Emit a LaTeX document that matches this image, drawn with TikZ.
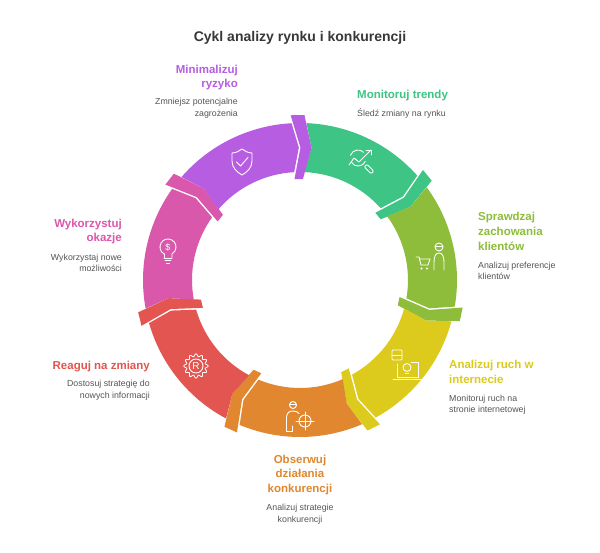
\documentclass[tikz,border=0pt]{standalone}
\usepackage{fontspec}
\setmainfont{Liberation Sans}
\definecolor{cgreen}{HTML}{3EC484}
\definecolor{clime}{HTML}{8DBD3B}
\definecolor{cyellow}{HTML}{DCCB1C}
\definecolor{corange}{HTML}{E0872F}
\definecolor{cred}{HTML}{E25550}
\definecolor{cpink}{HTML}{DA58AC}
\definecolor{cpurple}{HTML}{B75DE1}
\definecolor{cdesc}{HTML}{555555}
\definecolor{ctitle}{HTML}{383838}
\tikzset{
  head/.style={font=\fontsize{11.5}{14}\selectfont\bfseries, inner sep=0pt},
  desc/.style={font=\fontsize{8.8}{11}\selectfont, text=cdesc, inner sep=0pt},
  icon/.style={draw=white, line width=0.9pt, line cap=round, line join=round},
}
\begin{document}
\begin{tikzpicture}[x=1pt,y=1pt,yscale=-1]
\useasboundingbox (0,0) rectangle (600,553);
\fill[white] (0,0) rectangle (600,553);

% ring
\def\ro{157}\def\ri{108}\def\rmid{132.5}\def\rbo{165}\def\rbi{101}
\begin{scope}[shift={(300,280)}]
\foreach \i/\col in {0/cgreen,1/clime,2/cyellow,3/corange,4/cred,5/cpink,6/cpurple}{
  \pgfmathsetmacro\bs{-90+\i*360/7}
  \pgfmathsetmacro\be{-90+(\i+1)*360/7}
  \pgfmathsetmacro\ts{\bs+2.4}
  \pgfmathsetmacro\te{\be-3.1}
  \pgfmathsetmacro\ba{\be-2.4}
  \pgfmathsetmacro\bb{\be+2.4}
  \fill[\col] (\ts:\ro) arc[start angle=\ts, end angle=\te, radius=\ro]
     -- ({\te+2.6}:\rmid) -- (\te:\ri)
     arc[start angle=\te, end angle=\ts, radius=\ri]
     -- ({\ts+2.6}:\rmid) -- cycle;
  \fill[\col] ({\ba-0.85}:\rbo) -- ({\ba+2.6}:\rmid) -- ({\ba-0.74}:\rbi)
     -- ({\bb-0.74}:\rbi) -- ({\bb+2.6}:\rmid) -- ({\bb-0.85}:\rbo) -- cycle;
}
\end{scope}

% title
\node[font=\fontsize{14}{16}\selectfont\bfseries, text=ctitle, inner sep=0pt, anchor=base] (title) at (300,42) {Cykl analizy rynku i konkurencji};

% Minimalizuj ryzyko
\node[head, text=cpurple, anchor=base east] (h7a) at (238,73.5) {Minimalizuj};
\node[head, text=cpurple, anchor=base east] (h7b) at (238,88) {ryzyko};
\node[desc, anchor=base east] (d7a) at (238,104.5) {Zmniejsz potencjalne};
\node[desc, anchor=base east] (d7b) at (238,116.5) {zagrożenia};

% Monitoruj trendy
\node[head, text=cgreen, anchor=base west] (h1a) at (357,98.5) {Monitoruj trendy};
\node[desc, anchor=base west] (d1a) at (357,116.5) {Śledź zmiany na rynku};

% Sprawdzaj zachowania klientów
\node[head, text=clime, anchor=base west] (h2a) at (478,220.5) {Sprawdzaj};
\node[head, text=clime, anchor=base west] (h2b) at (478,235.5) {zachowania};
\node[head, text=clime, anchor=base west] (h2c) at (478,250.5) {klientów};
\node[desc, anchor=base west] (d2a) at (478,268.5) {Analizuj preferencje};
\node[desc, anchor=base west] (d2b) at (478,280) {klientów};

% Analizuj ruch w internecie
\node[head, text=cyellow, anchor=base west] (h3a) at (449,368.5) {Analizuj ruch w};
\node[head, text=cyellow, anchor=base west] (h3b) at (449,383.5) {internecie};
\node[desc, anchor=base west] (d3a) at (449,401.5) {Monitoruj ruch na};
\node[desc, anchor=base west] (d3b) at (449,413) {stronie internetowej};

% Obserwuj działania konkurencji
\node[head, text=corange, anchor=base] (h4a) at (300,463) {Obserwuj};
\node[head, text=corange, anchor=base] (h4b) at (300,477.5) {działania};
\node[head, text=corange, anchor=base] (h4c) at (300,492) {konkurencji};
\node[desc, anchor=base] (d4a) at (300,510.5) {Analizuj strategie};
\node[desc, anchor=base] (d4b) at (300,522) {konkurencji};

% Reaguj na zmiany
\node[head, text=cred, anchor=base east] (h5a) at (150,369.5) {Reaguj na zmiany};
\node[desc, anchor=base east] (d5a) at (150,386.5) {Dostosuj strategię do};
\node[desc, anchor=base east] (d5b) at (150,398.5) {nowych informacji};

% Wykorzystuj okazje
\node[head, text=cpink, anchor=base east] (h6a) at (122,227.5) {Wykorzystuj};
\node[head, text=cpink, anchor=base east] (h6b) at (122,242) {okazje};
\node[desc, anchor=base east] (d6a) at (122,260.5) {Wykorzystaj nowe};
\node[desc, anchor=base east] (d6b) at (122,272) {możliwości};

% icon: shield (purple)
\draw[icon] (232,153) .. controls (236,153) and (239,151) .. (242,149)
  .. controls (245,151) and (248,153) .. (252,153) -- (252,161)
  .. controls (252,168) and (247,172) .. (242,175)
  .. controls (237,172) and (232,168) .. (232,161) -- cycle;
\draw[icon] (236.5,162) -- (240.5,166) -- (248,157.5);

% icon: trend + magnifier (green)
\draw[icon] (358,158) ++(-160:8) arc[start angle=-160, end angle=-45, radius=8];
\draw[icon] (358,158) ++(25:8) arc[start angle=25, end angle=150, radius=8];
\draw[icon] (349,165) -- (354,158) -- (359,162) -- (371,150);
\draw[icon] (366,150) -- (371,150) -- (371,155);
\draw[icon, rounded corners=1.5pt, rotate around={45:(369,169)}] (364,167) rectangle (374,171);

% icon: cart + person (lime)
\draw[icon] (416,257) -- (419,257) -- (421,265) -- (428,265) -- (430,259) -- (419.5,259);
\fill[white] (421.5,268.5) circle (1.1) (427,268.5) circle (1.1);
\draw[icon] (439,247) circle (4);
\draw[icon] (435.3,246) -- (442.7,246);
\draw[icon] (434,270) -- (434,262) .. controls (434,256) and (436,253) .. (439,253)
  .. controls (442,253) and (444,256) .. (444,262) -- (444,270);

% icon: bus + laptop with bulb (yellow)
\draw[icon, rounded corners=1pt] (392,350) rectangle (402,360);
\draw[icon] (392,355) -- (402,355);
\draw[icon] (397,364) -- (397,377) -- (418,377) -- (418,362) -- (411,362);
\draw[icon] (393,379.5) -- (422,379.5);
\draw[icon] (407,367.5) circle (4);
\draw[icon] (405.3,373) -- (408.7,373);

% icon: person + target (orange)
\draw[icon] (293,405) circle (3.5);
\draw[icon] (289.5,404) -- (296.5,404);
\draw[icon] (286.5,431) -- (286.5,418) .. controls (286.5,413) and (289,411) .. (293,411)
  .. controls (296,411) and (298,412) .. (299,413.5);
\draw[icon] (286.5,431) -- (292,431) -- (292,426);
\draw[icon] (305,421) circle (6);
\draw[icon] (305,412) -- (305,430) (296,421) -- (314,421);

% icon: gear with R (red)
\begin{scope}[shift={(196,366)}]
\draw[icon, line width=0.8pt] plot[samples=97, domain=0:360] (\x:{10.8+1.4*cos(12*\x)}) -- cycle;
\draw[icon] (0,0) circle (7);
\node[text=white, font=\fontsize{10}{10}\selectfont, inner sep=0pt] (rlet) at (0,0) {R};
\end{scope}

% icon: bulb with dollar (pink)
\draw[icon] (168,247) ++(120:8) arc[start angle=120, end angle=420, radius=8] -- ++(0,3.5);
\draw[icon] (164,253.9) -- (164,257.4);
\draw[icon] (164,258) -- (172,258) (165,260.7) -- (171,260.7) (166.5,263.2) -- (169.5,263.2);
\node[text=white, font=\fontsize{9}{9}\selectfont, inner sep=0pt] (dollar) at (168,247) {\$};
\end{tikzpicture}
\end{document}
